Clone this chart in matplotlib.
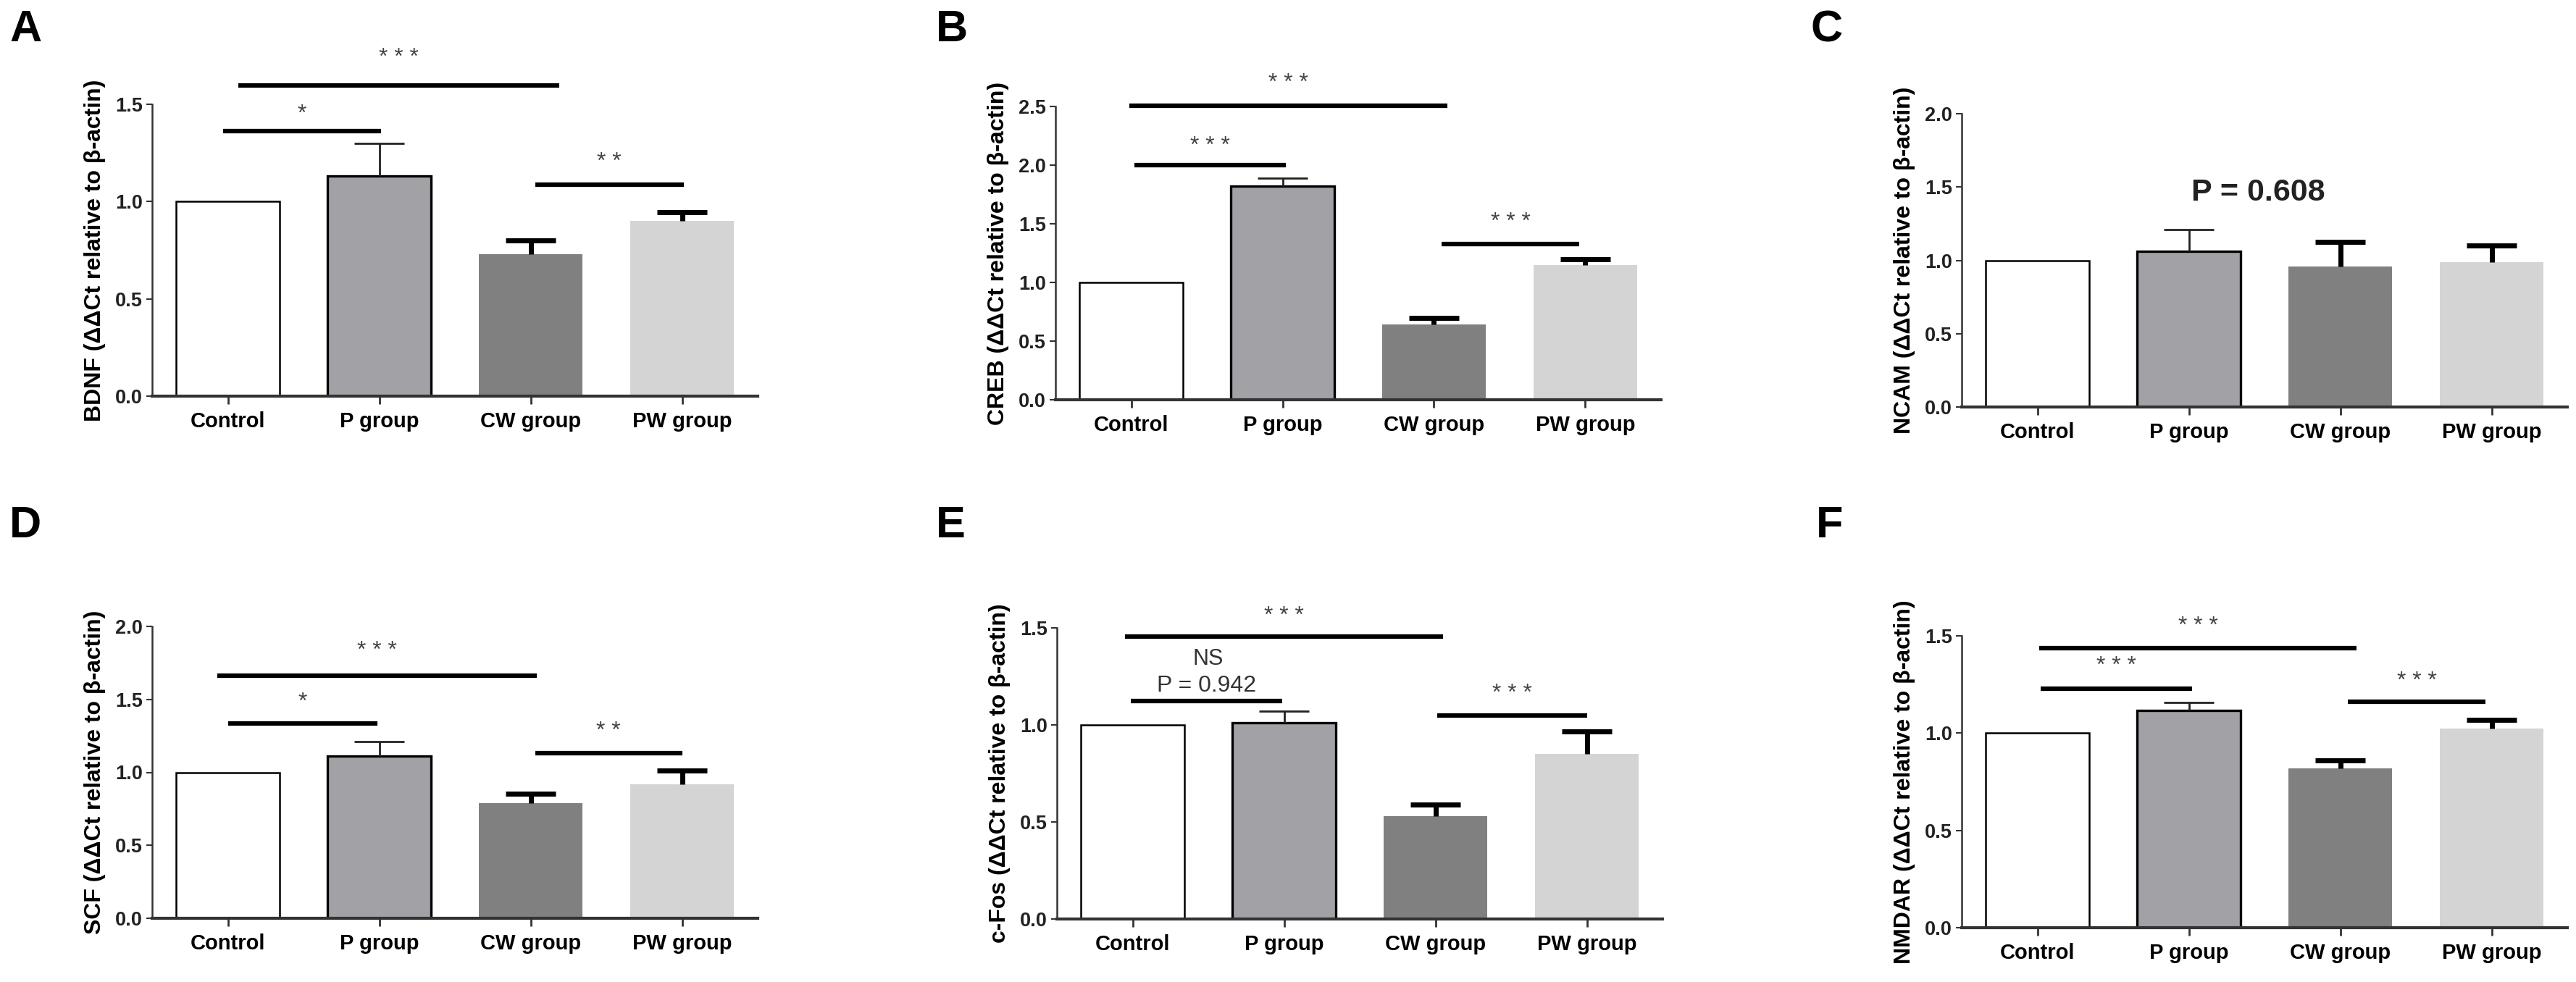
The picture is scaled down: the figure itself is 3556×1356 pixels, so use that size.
import numpy as np
import matplotlib
matplotlib.use('Agg')
import matplotlib.pyplot as plt

plt.rcParams['font.family'] = ['Liberation Sans', 'DejaVu Sans']

groups = ['Control', 'P group', 'CW group', 'PW group']

bdnf_mean = [1.0, 1.13, 0.73, 0.90]
bdnf_err = [0.0, 0.17, 0.07, 0.045]
creb_mean = [1.0, 1.82, 0.64, 1.15]
creb_err = [0.0, 0.07, 0.06, 0.05]
ncam_mean = [1.0, 1.06, 0.96, 0.99]
ncam_err = [0.0, 0.15, 0.165, 0.11]
scf_mean = [1.0, 1.11, 0.79, 0.92]
scf_err = [0.0, 0.10, 0.065, 0.09]
cfos_mean = [1.0, 1.01, 0.53, 0.85]
cfos_err = [0.0, 0.06, 0.06, 0.115]
nmdar_mean = [1.0, 1.115, 0.82, 1.025]
nmdar_err = [0.0, 0.042, 0.041, 0.045]

# significance bars: (from, to, height, label, label height)
bdnf_sig = [(0.07, 2.19, 1.595, '* * *', 1.74), (-0.03, 1.01, 1.363, '*', 1.45), (2.03, 3.01, 1.086, '* *', 1.203)]
creb_sig = [(-0.01, 2.09, 2.505, '* * *', 2.70), (0.02, 1.02, 2.0, '* * *', 2.16), (2.05, 2.96, 1.33, '* * *', 1.51)]
ncam_sig = []
scf_sig = [(-0.07, 2.04, 1.665, '* * *', 1.83), (0.0, 0.99, 1.337, '*', 1.48), (2.03, 3.0, 1.13, '* *', 1.28)]
cfos_sig = [(-0.05, 2.05, 1.456, '* * *', 1.56), (-0.01, 0.99, 1.125, 'P = 0.942', 1.20), (2.01, 3.0, 1.05, '* * *', 1.16)]
nmdar_sig = [(0.01, 2.11, 1.435, '* * *', 1.55), (0.02, 1.02, 1.227, '* * *', 1.343), (2.05, 2.96, 1.163, '* * *', 1.265)]

bar_colors = ['white', '#a2a2a6', '#808080', '#d4d4d4']
edge_colors = ['black', 'black', '#808080', '#d4d4d4']

W, H = 3556, 1356
fig = plt.figure(figsize=(W / 100, H / 100), dpi=100)

# (letter, gene, means, errs, sig, ymax, left px, base px, top px, letter x px, letter baseline px)
panels = [
    ('A', 'BDNF', bdnf_mean, bdnf_err, bdnf_sig, 1.5, 210, 547, 144, 13, 57),
    ('B', 'CREB', creb_mean, creb_err, creb_sig, 2.5, 1457, 552, 147, 1292, 57),
    ('C', 'NCAM', ncam_mean, ncam_err, ncam_sig, 2.0, 2708, 562, 157, 2499, 57),
    ('D', 'SCF', scf_mean, scf_err, scf_sig, 2.0, 210, 1268, 865, 13, 742),
    ('E', 'c-Fos', cfos_mean, cfos_err, cfos_sig, 1.5, 1459, 1269, 867, 1292, 742),
    ('F', 'NMDAR', nmdar_mean, nmdar_err, nmdar_sig, 1.5, 2708, 1281, 878, 2507, 742),
]

x = np.arange(len(groups))
cap = 0.167

for letter, gene, means, errs, sig, ymax, left, base, top, lx, ly in panels:
    ax = fig.add_axes([left / W, 1 - base / H, 836 / W, (base - top) / H])
    lws = [1.8, 2.4, 0, 0]
    for i in range(len(groups)):
        ax.bar(x[i], means[i], width=0.68, color=bar_colors[i], edgecolor=edge_colors[i],
               linewidth=lws[i], zorder=2)
        if errs[i] > 0:
            thin = (i == 1)
            ec = '#222222' if thin else 'black'
            lw = 2.0 if thin else 5.0
            ax.vlines(x[i], means[i], means[i] + errs[i], color=ec, lw=lw, zorder=3)
            ax.hlines(means[i] + errs[i], x[i] - cap, x[i] + cap, color=ec, lw=lw,
                      zorder=3)

    for x1, x2, yh, lab, ty in sig:
        ax.plot([x1, x2], [yh, yh], color='black', lw=4.5, solid_capstyle='butt',
                clip_on=False, zorder=4)
        if lab.startswith('P'):
            ax.text((x1 + x2) / 2, ty, lab, ha='center', va='center', fontsize=23,
                    color='#333333')
            ax.text((x1 + x2) / 2 + 0.01, 1.34, 'NS', ha='center', va='center',
                    fontsize=22, color='#333333')
        else:
            ax.text((x1 + x2) / 2, ty, lab, ha='center', va='center', fontsize=23,
                    color='#444444')

    if gene == 'NCAM':
        ax.text(1.46, 1.46, 'P = 0.608', ha='center', va='center', fontsize=31,
                fontweight='bold', color='#222222')

    ax.set_xlim(-0.5, 3.5)
    ax.set_ylim(0, ymax)
    ax.set_yticks(np.arange(0, ymax + 0.01, 0.5))
    ax.set_yticklabels(['%.1f' % v for v in np.arange(0, ymax + 0.01, 0.5)])
    ax.set_xticks(x)
    ax.set_xticklabels(groups)
    for lab in ax.get_xticklabels():
        lab.set_fontweight('bold')
        lab.set_fontsize(21)
    for lab in ax.get_yticklabels():
        lab.set_fontweight('bold')
        lab.set_fontsize(19.5)
        lab.set_color('#222222')

    ax.spines['top'].set_visible(False)
    ax.spines['right'].set_visible(False)
    ax.spines['left'].set_linewidth(1.8)
    ax.spines['left'].set_color('#333333')
    ax.spines['bottom'].set_linewidth(3.0)
    ax.spines['bottom'].set_color('#333333')
    ax.tick_params(axis='x', length=8, width=2, pad=7, color='#333333')
    ax.tick_params(axis='y', length=6, width=1.5, pad=3.5, color='#333333')
    ax.set_ylabel(gene + ' (\u0394\u0394Ct relative to \u03b2-actin)', fontsize=23,
                  fontweight='bold', labelpad=9)

    fig.text(lx / W, 1 - ly / H, letter, ha='left', va='baseline', fontsize=44,
             fontweight='bold')

fig.savefig('out.png', dpi=100, facecolor='white')
